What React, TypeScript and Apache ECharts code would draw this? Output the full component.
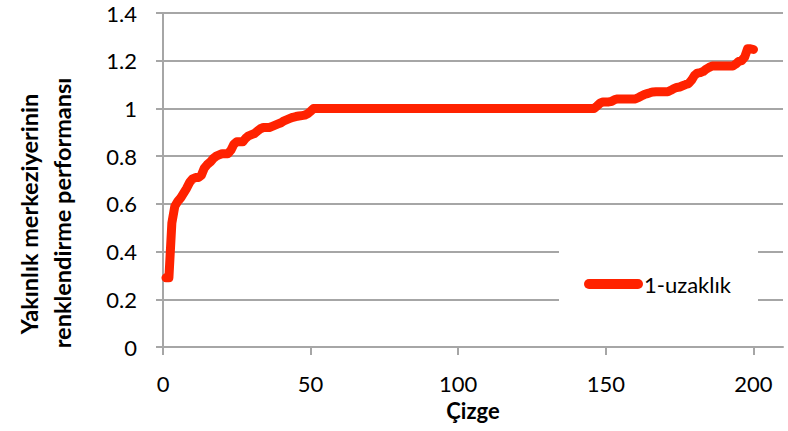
import React, { useEffect, useRef } from "react";
import * as echarts from "echarts";

const xValues = [
  1, 2, 3, 4, 5, 6, 7, 8, 9, 10, 11, 12, 13, 14, 15, 16, 17, 18, 19, 20,
  21, 22, 23, 24, 25, 26, 27, 28, 29, 30, 31, 32, 33, 34, 35, 36, 37, 38, 39, 40,
  41, 42, 43, 44, 45, 46, 47, 48, 49, 50, 51, 146, 147, 148, 149, 151, 152, 153,
  154, 160, 161, 162, 163, 164, 165, 166, 167, 171, 172, 173, 174, 175, 176, 177,
  178, 179, 180, 181, 182, 183, 184, 185, 186, 193, 194, 195, 196, 197, 198, 199, 200,
];
const yValues = [
  0.29, 0.29, 0.52, 0.59, 0.61, 0.625, 0.645, 0.665, 0.69, 0.705, 0.71, 0.71, 0.72, 0.75, 0.765, 0.775, 0.79, 0.8, 0.805, 0.81,
  0.81, 0.81, 0.825, 0.85, 0.86, 0.86, 0.86, 0.875, 0.885, 0.89, 0.895, 0.905, 0.915, 0.92, 0.92, 0.92, 0.925, 0.93, 0.935, 0.94,
  0.948, 0.953, 0.958, 0.963, 0.966, 0.968, 0.97, 0.972, 0.978, 0.988, 1.0, 1.0, 1.01, 1.022, 1.027, 1.027, 1.03, 1.037,
  1.04, 1.04, 1.045, 1.052, 1.058, 1.062, 1.066, 1.069, 1.07, 1.07, 1.076, 1.083, 1.088, 1.09, 1.095, 1.1,
  1.104, 1.118, 1.138, 1.148, 1.15, 1.155, 1.165, 1.172, 1.178, 1.178, 1.186, 1.197, 1.2, 1.215, 1.25, 1.25, 1.247,
];
const xTicks = [0, 50, 100, 150, 200];
const seriesName = "1-uzaklık";
const xTitle = "Çizge";
const yTitleLines = ["Yakınlık merkeziyerinin", "renklendirme performansı"];

const FONT = "Lato";

export default function App() {
  const ref = useRef<HTMLDivElement>(null);
  useEffect(() => {
    if (!ref.current) return;
    const chart = echarts.init(ref.current, null, { renderer: "svg" });
    const data = xValues.map((x, i) => [x, yValues[i]]);
    const gridColor = "#a6a6a6";
    chart.setOption({
      animation: false,
      backgroundColor: "#ffffff",
      grid: { left: 163, right: 5, top: 13, bottom: 84 },
      xAxis: {
        type: "value",
        min: 0,
        max: 210,
        interval: 50,
        name: xTitle,
        nameLocation: "middle",
        nameGap: 52,
        nameTextStyle: { fontFamily: FONT, fontWeight: "bold", fontSize: 22, color: "#000" },
        axisLine: { show: true, lineStyle: { color: gridColor, width: 2 } },
        axisTick: { show: true, length: 8, customValues: xTicks, lineStyle: { color: gridColor, width: 2 } },
        axisLabel: { customValues: xTicks, margin: 25, fontFamily: FONT, fontSize: 22, color: "#000" },
        splitLine: { show: false },
      },
      yAxis: {
        type: "value",
        min: 0,
        max: 1.4,
        interval: 0.2,
        axisLine: { show: true, lineStyle: { color: gridColor, width: 2 } },
        axisTick: { show: true, length: 7, lineStyle: { color: gridColor, width: 2 } },
        axisLabel: { margin: 26, fontFamily: FONT, fontSize: 22, color: "#000" },
        splitLine: { show: true, lineStyle: { color: gridColor, width: 2 } },
      },
      legend: {
        show: true,
        left: 584,
        top: 273,
        padding: 0,
        itemWidth: 59,
        itemHeight: 11,
        icon: "path://M5,0 L54,0 A5,5 0 0 1 54,10 L5,10 A5,5 0 0 1 5,0 Z",
        textStyle: { fontFamily: FONT, fontSize: 22, color: "#000", padding: [0, 0, 0, -4] },
        data: [{ name: seriesName, itemStyle: { color: "#ff2200" } }],
      },
      graphic: [
        {
          type: "rect",
          z: 1,
          shape: { x: 559, y: 232, width: 199, height: 94 },
          style: { fill: "#ffffff" },
        },
        {
          type: "text",
          x: 29,
          y: 214,
          rotation: Math.PI / 2,
          style: {
            text: yTitleLines[0],
            fontFamily: FONT,
            fontWeight: "bold",
            fontSize: 23.5,
            fill: "#000",
            textAlign: "center",
            textVerticalAlign: "middle",
          },
        },
        {
          type: "text",
          x: 62,
          y: 213,
          rotation: Math.PI / 2,
          style: {
            text: yTitleLines[1],
            fontFamily: FONT,
            fontWeight: "bold",
            fontSize: 23.5,
            fill: "#000",
            textAlign: "center",
            textVerticalAlign: "middle",
          },
        },
      ],
      series: [
        {
          type: "line",
          name: seriesName,
          data,
          showSymbol: false,
          symbol: "none",
          z: 3,
          lineStyle: { color: "#ff2200", width: 9, cap: "round", join: "round" },
          itemStyle: { color: "#ff2200" },
        },
      ],
    });
    return () => chart.dispose();
  }, []);
  return <div ref={ref} style={{ width: 788, height: 431, position: "absolute", left: 0, top: 0 }} />;
}
